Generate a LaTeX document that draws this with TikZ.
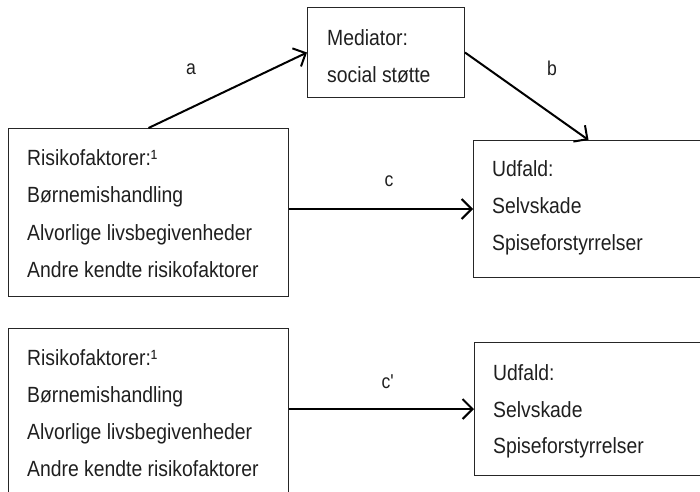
\documentclass[tikz,border=0pt]{standalone}
\usepackage{fontspec}
\setmainfont{Liberation Sans}[FakeStretch=0.88]
\usetikzlibrary{arrows.meta}
\begin{document}
\begin{tikzpicture}[x=1pt,y=-1pt,
  box/.style={draw=black!85, line width=1pt, rectangle, anchor=north west, inner sep=0pt},
  txt/.style={anchor=base west, inner sep=0pt, font=\fontsize{22}{26}\selectfont, text=black!88},
  lab/.style={inner sep=0pt, font=\fontsize{20}{24}\selectfont, text=black!88},
  arr/.style={line width=2pt, -{Straight Barb[length=10pt, width=20pt, line width=2pt]}}]
\clip (0,0) rectangle (700,491);
\useasboundingbox (0,0) rectangle (700,491);
% boxes
\node[box, minimum width=280pt, minimum height=168pt] (tl) at (8,128) {};
\node[box, minimum width=157pt, minimum height=90pt] (med) at (307,7) {};
\node[box, minimum width=230pt, minimum height=137pt] (out) at (473,140) {};
\node[box, minimum width=280pt, minimum height=168pt] (bl) at (8,328) {};
\node[box, minimum width=230pt, minimum height=133pt] (out2) at (474,342) {};
% texts
\node[txt] (t1) at (27,165) {Risikofaktorer:¹};
\node[txt] (t2) at (27,202.5) {Børnemishandling};
\node[txt] (t3) at (27,240) {Alvorlige livsbegivenheder};
\node[txt] (t4) at (27,277) {Andre kendte risikofaktorer};
\node[txt] (m1) at (327,45) {Mediator:};
\node[txt] (m2) at (327,82) {social støtte};
\node[txt] (o1) at (492,176) {Udfald:};
\node[txt] (o2) at (492,213) {Selvskade};
\node[txt] (o3) at (492,250) {Spiseforstyrrelser};
\node[txt] (b1) at (27,365) {Risikofaktorer:¹};
\node[txt] (b2) at (27,402) {Børnemishandling};
\node[txt] (b3) at (27,439) {Alvorlige livsbegivenheder};
\node[txt] (b4) at (27,476) {Andre kendte risikofaktorer};
\node[txt] (p1) at (493,380) {Udfald:};
\node[txt] (p2) at (493,417) {Selvskade};
\node[txt] (p3) at (493,453) {Spiseforstyrrelser};
% labels
\node[lab] (la) at (191,69) {a};
\node[lab] (lb) at (552,68) {b};
\node[lab] (lc) at (389,181) {c};
\node[lab] (lc2) at (388,382) {c\textquotesingle};
% arrows
\draw[arr] (tl.north) -- (med.west);
\draw[arr] (med.east) -- (out.north);
\draw[arr] (tl.east |- out.west) -- (out.west);
\draw[arr] (bl.east |- out2.west) -- (out2.west);
\end{tikzpicture}
\end{document}
